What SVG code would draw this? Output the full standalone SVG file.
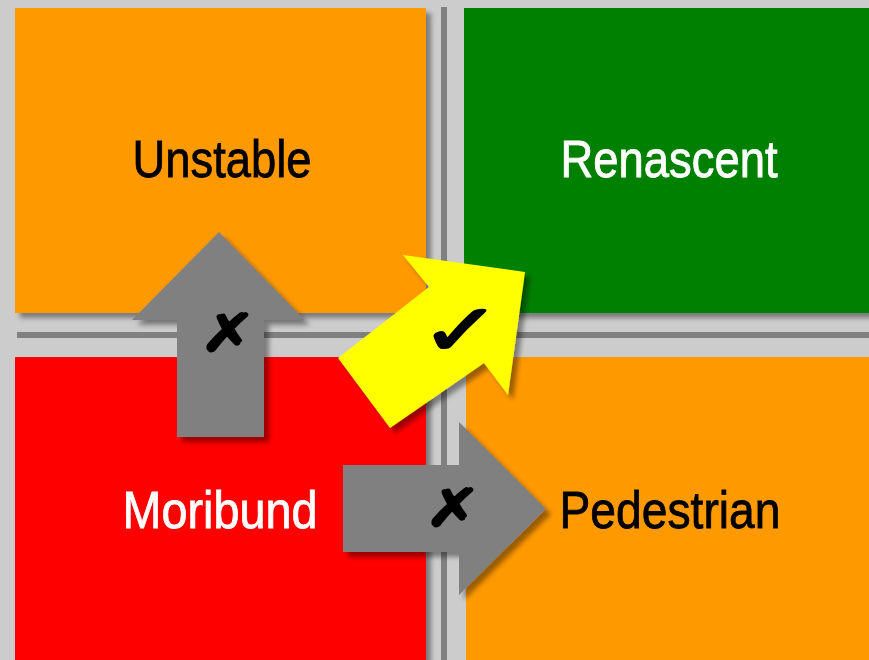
<svg xmlns="http://www.w3.org/2000/svg" width="869" height="660" viewBox="0 0 869 660">
<defs>
<filter id="sh" x="-10%" y="-10%" width="130%" height="130%">
<feGaussianBlur in="SourceAlpha" stdDeviation="2.5"/>
<feOffset dx="5" dy="5" result="o"/>
<feComponentTransfer><feFuncA type="linear" slope="0.4"/></feComponentTransfer>
<feMerge><feMergeNode/><feMergeNode in="SourceGraphic"/></feMerge>
</filter>
<style>
.lbl{font-family:"Liberation Sans Narrow","Liberation Sans",Arial,sans-serif;font-size:52px;text-anchor:middle;stroke-width:0.8px}
.mark{font-family:"DejaVu Sans",sans-serif;font-weight:bold;text-anchor:middle;fill:#000;stroke:#000;stroke-width:2px;stroke-linejoin:round}
.gray{fill:#808080}
</style>
</defs>
<rect width="869" height="660" fill="#cccccc"/>
<g id="dividers">
<rect x="17" y="332" width="852" height="6" fill="#808080"/>
<rect x="441" y="7" width="6" height="653" fill="#808080"/>
</g>
<g id="unstable">
<rect x="15" y="8" width="411" height="305" fill="#ff9900" filter="url(#sh)"/>
<text class="lbl" x="222" y="177" fill="#000" stroke="#000" textLength="179" lengthAdjust="spacingAndGlyphs">Unstable</text>
</g>
<g id="renascent">
<rect x="464" y="8" width="420" height="305" fill="#008000" filter="url(#sh)"/>
<text class="lbl" x="669" y="177" fill="#fff" stroke="#fff" textLength="217" lengthAdjust="spacingAndGlyphs">Renascent</text>
</g>
<g id="moribund">
<rect x="15" y="357" width="411" height="320" fill="#ff0000" filter="url(#sh)"/>
<text class="lbl" x="220" y="528" fill="#fff" stroke="#fff" textLength="195" lengthAdjust="spacingAndGlyphs">Moribund</text>
</g>
<g id="pedestrian">
<rect x="466" y="357" width="420" height="320" fill="#ff9900" filter="url(#sh)"/>
<text class="lbl" x="670" y="528" fill="#000" stroke="#000" textLength="221" lengthAdjust="spacingAndGlyphs">Pedestrian</text>
</g>
<g id="connectors">
<g id="arrow-up">
<polygon class="gray" points="177,437 177,320 132,320 219,232 305,320 264,320 264,437" filter="url(#sh)"/>
<text class="mark" transform="translate(228,351) scale(1.3,1)" font-size="52">✗</text>
</g>
<g id="arrow-right">
<polygon class="gray" points="343,465 459,465 459,422 546,509 459,595 459,552 343,552" filter="url(#sh)"/>
<text class="mark" transform="translate(453,526) scale(1.3,1)" font-size="52">✗</text>
</g>
<g id="arrow-diag">
<polygon fill="#ffff00" points="338,358 429,287 403,255 525,272 508,395 484,363 390,428" filter="url(#sh)"/>
<text class="mark" transform="translate(461,355) scale(1.35,1)" font-size="72">✓</text>
</g>
</g>
</svg>
